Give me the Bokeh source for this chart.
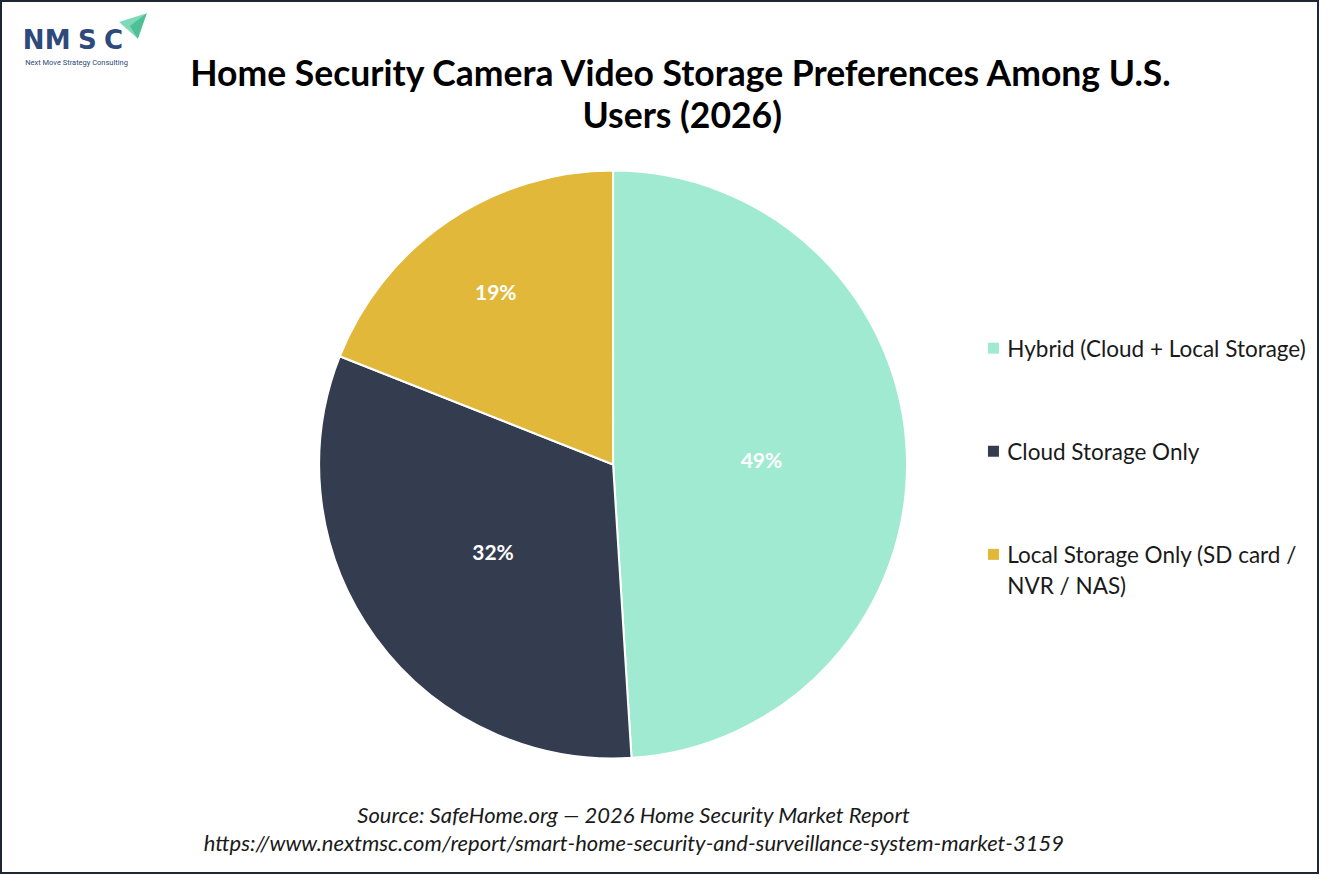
import math
import textwrap
from bokeh.plotting import figure
from bokeh.models import Range1d, ColumnDataSource
from bokeh.core.properties import value
from bokeh.embed import file_html
from bokeh.resources import INLINE

# ---- data ----
categories = ["Hybrid (Cloud + Local Storage)", "Cloud Storage Only",
              "Local Storage Only (SD card / NVR / NAS)"]
shares = [49, 32, 19]
colors = ["#A0EAD2", "#343D4F", "#E1B83A"]
title_lines = ["Home Security Camera Video Storage Preferences Among U.S.", "Users (2026)"]
source_lines = ["Source: SafeHome.org \u2014 2026 Home Security Market Report",
                "https://www.nextmsc.com/report/smart-home-security-and-surveillance-system-market-3159"]

W, H = 1319, 874
SX, SY = W / 1335.0, H / 890.0
FONT = "Lato"

def X(x):
    return x * SX

def Y(y):
    return H - y * SY

p = figure(width=W, height=H, x_range=Range1d(0, W), y_range=Range1d(0, H),
           output_backend="svg", toolbar_location=None, min_border=0,
           x_axis_type=None, y_axis_type=None)
p.grid.visible = False
p.outline_line_color = "#1E2733"
p.outline_line_width = 3
p.background_fill_color = "white"
p.border_fill_color = "white"

# ---- pie ----
cx, cy, r = X(620), Y(472.5), 297.5 * SX
total = float(sum(shares))
starts, ends, fr = [], [], 0.0
mids = []
for s in shares:
    f0 = fr
    fr += s / total
    starts.append(math.pi / 2 - f0 * 2 * math.pi)
    ends.append(math.pi / 2 - fr * 2 * math.pi)
    mids.append(math.pi / 2 - (f0 + fr) / 2 * 2 * math.pi)

src = ColumnDataSource(dict(start=starts, end=ends, color=colors,
                            x=[cx] * 3, y=[cy] * 3))
p.wedge(x="x", y="y", radius=r, radius_units="screen", start_angle="start",
        end_angle="end", direction="clock", fill_color="color",
        line_color="white", line_width=2, source=src)

label_r = [0.505, 0.505, 0.71]
lx = [cx + r * k * math.cos(a) for k, a in zip(label_r, mids)]
ly = [cy + r * k * math.sin(a) for k, a in zip(label_r, mids)]
p.text(x=lx, y=ly, text=[f"{s}%" for s in shares], text_color="white",
       text_font=value(FONT), text_font_style="bold", text_font_size="21px",
       text_align="center", text_baseline="middle")

# ---- legend ----
leg_y = [354, 459, 564]
p.rect(x=[X(1005)] * 3, y=[Y(v) for v in leg_y], width=11, height=11,
       width_units="screen", height_units="screen", fill_color=colors, line_color=None)
wrapped = ["\n".join(textwrap.wrap(c, 30)) for c in categories]
for lab, yy in zip(wrapped, leg_y):
    lines = lab.split("\n")
    for i, ln in enumerate(lines):
        p.text(x=[X(1019)], y=[Y(yy + 32 * i)], text=[ln], text_color="#1a1a1a",
               text_font=value(FONT), text_font_size="22.5px",
               text_align="left", text_baseline="middle")

# ---- title ----
for i, t in enumerate(title_lines):
    p.text(x=[X(690)], y=[Y(73 + 43 * i)], text=[t], text_color="black",
           text_font=value(FONT), text_font_style="bold", text_font_size="35.5px",
           text_align="center", text_baseline="middle")

# ---- source ----
for i, t in enumerate(source_lines):
    p.text(x=[X(641)], y=[Y(829 + 28 * i)], text=[t], text_color="#1a1a1a",
           text_font=value(FONT), text_font_style="italic", text_font_size="22px",
           text_align="center", text_baseline="middle")

# ---- logo ----
logo_blue = "#2D4A7A"
for ch, xx in zip("NMSC", [33.5, 58, 88, 114.5]):
    p.text(x=[X(xx)], y=[Y(40)], text=[ch], text_color=logo_blue,
           text_font=value("DejaVu Sans"), text_font_style="bold", text_font_size="26px",
           text_align="center", text_baseline="middle")
p.text(x=[X(25)], y=[Y(63)], text=["Next Move Strategy Consulting"], text_color=logo_blue,
       text_font=value("Roboto"), text_font_size="7.5px",
       text_align="left", text_baseline="middle")
p.patch(x=[X(120), X(148), X(139)], y=[Y(22), Y(13), Y(39)],
        fill_color="#7ED9BA", line_color=None)
p.patch(x=[X(131), X(148), X(139)], y=[Y(26), Y(13), Y(39)],
        fill_color="#4FBF98", line_color=None)

open("out.html", "w").write(file_html(p, INLINE))
